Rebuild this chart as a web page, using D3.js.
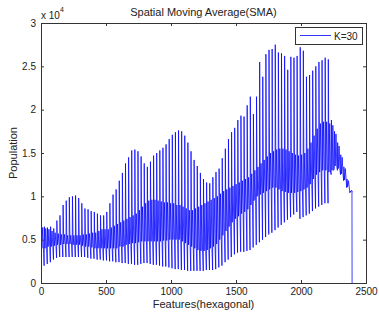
<!DOCTYPE html>
<html><head><meta charset="utf-8">
<script src="https://cdn.jsdelivr.net/npm/d3@7"></script>
<style>body{margin:0;background:#fff}svg{display:block}text{font-family:"Liberation Sans",Arial,sans-serif}</style>
</head><body><svg id="c" width="379" height="318"></svg>
<script>
// values in units of 1e4; one entry per ~24-feature oscillation cycle
const cycleLength = 24;
const peakValues = [
0.66,0.65,0.64,0.65,0.63,0.72,0.78,0.90,0.95,0.99,
1.00,1.01,0.98,0.92,0.86,0.85,0.83,0.82,0.80,0.78,
0.78,0.82,0.92,1.02,1.08,1.18,1.27,1.38,1.45,1.53,
1.54,1.52,1.46,1.38,1.34,1.40,1.47,1.50,1.53,1.56,
1.60,1.66,1.71,1.74,1.76,1.75,1.70,1.62,1.52,1.42,
1.35,1.27,1.20,1.16,1.15,1.22,1.28,1.32,1.44,1.55,
1.66,1.74,1.79,1.88,1.93,1.92,2.05,2.15,1.95,2.15,
2.55,2.38,2.64,2.69,2.70,2.75,2.66,2.65,2.62,2.46,
2.61,2.60,2.62,2.72,2.68,2.38,2.40,2.45,2.50,2.55,
2.57,2.60,2.58,1.88,1.75,1.62,1.48,1.34,1.20,1.06];
const troughValues = [
0.21,0.20,0.22,0.24,0.27,0.29,0.30,0.30,0.30,0.30,
0.30,0.30,0.30,0.30,0.30,0.29,0.28,0.28,0.27,0.27,
0.26,0.26,0.25,0.25,0.24,0.24,0.23,0.23,0.22,0.22,
0.21,0.21,0.22,0.23,0.23,0.22,0.21,0.21,0.20,0.19,
0.19,0.18,0.17,0.16,0.16,0.15,0.15,0.14,0.14,0.14,
0.14,0.14,0.14,0.15,0.15,0.15,0.16,0.18,0.20,0.24,
0.27,0.30,0.33,0.35,0.36,0.36,0.37,0.38,0.41,0.44,
0.47,0.50,0.53,0.56,0.58,0.61,0.64,0.67,0.70,0.73,
0.76,0.79,0.82,0.74,0.76,0.78,0.80,0.83,0.86,0.88,
0.90,0.92,0.92,1.25,1.32,1.30,1.25,1.18,1.10,1.04];
const bandLow = [
0.40,0.40,0.42,0.42,0.43,0.44,0.44,0.45,0.45,0.45,
0.44,0.44,0.44,0.43,0.42,0.42,0.41,0.40,0.40,0.40,
0.40,0.40,0.40,0.40,0.40,0.42,0.42,0.44,0.45,0.46,
0.46,0.47,0.48,0.48,0.48,0.48,0.48,0.48,0.48,0.49,
0.49,0.50,0.50,0.50,0.50,0.48,0.46,0.44,0.42,0.40,
0.38,0.37,0.37,0.38,0.40,0.42,0.45,0.50,0.55,0.60,
0.65,0.70,0.74,0.77,0.80,0.82,0.85,0.90,0.95,1.00,
1.02,1.04,1.06,1.08,1.10,1.10,1.08,1.06,1.05,1.04,
1.04,1.04,1.05,1.06,1.08,1.10,1.14,1.20,1.25,1.28,
1.30,1.30,1.28,1.30,1.35,1.32,1.26,1.19,1.11,1.05];
const bandHigh = [
0.64,0.63,0.62,0.60,0.58,0.57,0.56,0.56,0.55,0.55,
0.55,0.55,0.55,0.56,0.56,0.57,0.58,0.58,0.60,0.62,
0.62,0.62,0.64,0.66,0.68,0.70,0.72,0.74,0.76,0.78,
0.80,0.84,0.88,0.92,0.95,0.96,0.96,0.95,0.94,0.93,
0.93,0.92,0.92,0.90,0.90,0.88,0.86,0.84,0.84,0.86,
0.88,0.90,0.92,0.94,0.96,0.98,1.00,1.03,1.06,1.08,
1.10,1.12,1.14,1.16,1.18,1.20,1.22,1.26,1.30,1.34,
1.38,1.42,1.46,1.50,1.52,1.54,1.55,1.55,1.54,1.52,
1.50,1.48,1.47,1.48,1.50,1.55,1.62,1.70,1.78,1.84,
1.86,1.86,1.84,1.82,1.72,1.58,1.45,1.32,1.18,1.07];
const dropFeatures = [2392, 2393];
const dropValues = [1.05, 0];
const xTicks = [0, 500, 1000, 1500, 2000, 2500];
const yTicks = [0, 0.5, 1, 1.5, 2, 2.5, 3];
const yTickLabels = ["0", "0.5", "1", "1.5", "2", "2.5", "3"];
const titleText = "Spatial Moving Average(SMA)";
const xLabelText = "Features(hexagonal)";
const yLabelText = "Population";
const legendText = "K=30";

const svg = d3.select("#c");
const L = 41, R = 366, T = 23, B = 283;
const x = d3.scaleLinear().domain([0, 2500]).range([L, R]);
const y = d3.scaleLinear().domain([0, 3]).range([B, T]);

// build series points: trough -> peak spike, then zigzag through the middle band
const pts = [];
peakValues.forEach((p, i) => {
  const f0 = i * cycleLength;
  pts.push([f0, troughValues[i]]);
  pts.push([f0 + 2, p]);
  pts.push([f0 + 7, bandLow[i]]);
  pts.push([f0 + 13, bandHigh[i]]);
  pts.push([f0 + 19, bandLow[i]]);
});
dropFeatures.forEach((f, i) => pts.push([f, dropValues[i]]));

svg.append("clipPath").attr("id", "clip").append("rect")
  .attr("x", L).attr("y", T).attr("width", R - L).attr("height", B - T);

svg.append("path").datum(pts)
  .attr("clip-path", "url(#clip)")
  .attr("fill", "none").attr("stroke", "#0000ff").attr("stroke-width", 0.75)
  .attr("d", d3.line().x(d => x(d[0])).y(d => y(d[1])));

const axisColor = "#333";
const textColor = "#222";
function style(g) {
  g.select(".domain").remove();
  g.selectAll(".tick line").attr("stroke", axisColor);
  g.selectAll(".tick text").attr("fill", textColor).attr("font-size", 10);
}
svg.append("g").attr("transform", `translate(0,${B})`)
  .call(d3.axisBottom(x).tickValues(xTicks).tickSize(-3).tickPadding(5).tickFormat(d3.format("d"))).call(style);
svg.append("g").attr("transform", `translate(0,${T})`)
  .call(d3.axisTop(x).tickValues(xTicks).tickSize(-3).tickFormat("")).call(style);
svg.append("g").attr("transform", `translate(${L},0)`)
  .call(d3.axisLeft(y).tickValues(yTicks).tickSize(-3).tickPadding(5).tickFormat((d, i) => yTickLabels[i])).call(style);
svg.append("g").attr("transform", `translate(${R},0)`)
  .call(d3.axisRight(y).tickValues(yTicks).tickSize(-3).tickFormat("")).call(style);

svg.append("rect").attr("x", L).attr("y", T).attr("width", R - L).attr("height", B - T)
  .attr("fill", "none").attr("stroke", axisColor).attr("stroke-width", 1).attr("shape-rendering", "crispEdges");

// exponent
const ex = svg.append("text").attr("x", 41).attr("y", 19).attr("fill", textColor).attr("font-size", 10);
ex.append("tspan").text("x 10");
ex.append("tspan").attr("dy", -7).attr("font-size", 7).text("4");

svg.append("text").attr("x", (L + R) / 2).attr("y", 16).attr("text-anchor", "middle")
  .attr("fill", textColor).attr("font-size", 11).text(titleText);
svg.append("text").attr("x", (L + R) / 2).attr("y", 308).attr("text-anchor", "middle")
  .attr("fill", textColor).attr("font-size", 11).text(xLabelText);
svg.append("text").attr("transform", `translate(17,${(T + B) / 2}) rotate(-90)`).attr("text-anchor", "middle")
  .attr("fill", textColor).attr("font-size", 11).text(yLabelText);

// legend
const lg = svg.append("g");
lg.append("rect").attr("x", 295).attr("y", 27).attr("width", 67).attr("height", 17)
  .attr("fill", "#fff").attr("stroke", axisColor).attr("shape-rendering", "crispEdges");
lg.append("line").attr("x1", 300).attr("x2", 331).attr("y1", 35.5).attr("y2", 35.5)
  .attr("stroke", "#0000ff").attr("stroke-width", 0.8);
lg.append("text").attr("x", 334).attr("y", 39.5).attr("fill", textColor).attr("font-size", 10).text(legendText);
</script></body></html>
